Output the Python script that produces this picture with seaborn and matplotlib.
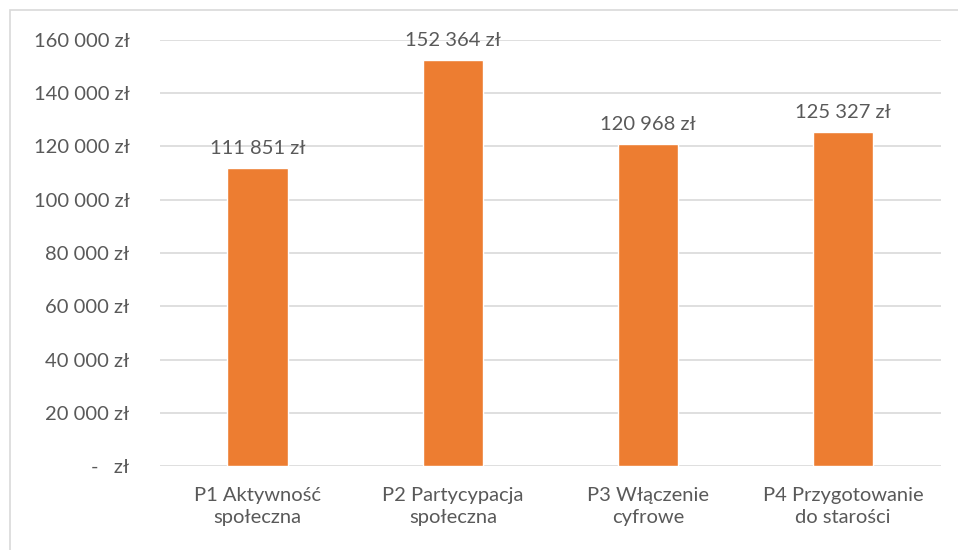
import matplotlib
matplotlib.use("Agg")
import matplotlib.pyplot as plt
import pandas as pd
import seaborn as sns
from matplotlib.patches import Rectangle

categories = [
    "P1 Aktywność\nspołeczna",
    "P2 Partycypacja\nspołeczna",
    "P3 Włączenie\ncyfrowe",
    "P4 Przygotowanie\ndo starości",
]
values = [111851, 152364, 120968, 125327]
y_ticks = [0, 20000, 40000, 60000, 80000, 100000, 120000, 140000, 160000]

TEXT = "#595959"
GRID = "#D9D9D9"
ORANGE = "#ED7D31"
FS = 14.5


def fmt_zl(v):
    if v == 0:
        return "-   zł"
    return f"{v:,.0f}".replace(",", " ") + " zł"


sns.set_theme(style="white")
plt.rcParams["font.family"] = ["Lato", "DejaVu Sans"]

df = pd.DataFrame({"category": categories, "value": values})

fig = plt.figure(figsize=(9.58, 5.5), dpi=100)
ax = fig.add_axes([0.167, 0.1527, 0.815, 0.7746])

sns.barplot(data=df, x="category", y="value", color=ORANGE, width=0.31,
            saturation=1, ax=ax)

ax.set_ylim(0, 160000)
ax.set_yticks(y_ticks)
ax.set_yticklabels([fmt_zl(v) for v in y_ticks])
ax.yaxis.grid(True, color=GRID, linewidth=1.2)
ax.set_axisbelow(True)
for s in ax.spines.values():
    s.set_visible(False)
ax.tick_params(axis="both", length=0, colors=TEXT, labelsize=FS)
ax.tick_params(axis="y", pad=22)
ax.tick_params(axis="x", pad=15)
for lbl in ax.get_xticklabels():
    lbl.set_linespacing(1.35)
ax.set_xlabel("")
ax.set_ylabel("")

for container in ax.containers:
    ax.bar_label(container, labels=[fmt_zl(v) for v in values],
                 padding=8, color=TEXT, fontsize=FS)

# chart area border (Excel-style), extends past the right/bottom edge
fig.patches.append(Rectangle((10 / 958, -0.1), 1.2, 1 - 10 / 550 + 0.1,
                             transform=fig.transFigure, fill=False,
                             edgecolor=GRID, linewidth=1.2))

fig.savefig("out.png", dpi=100)
